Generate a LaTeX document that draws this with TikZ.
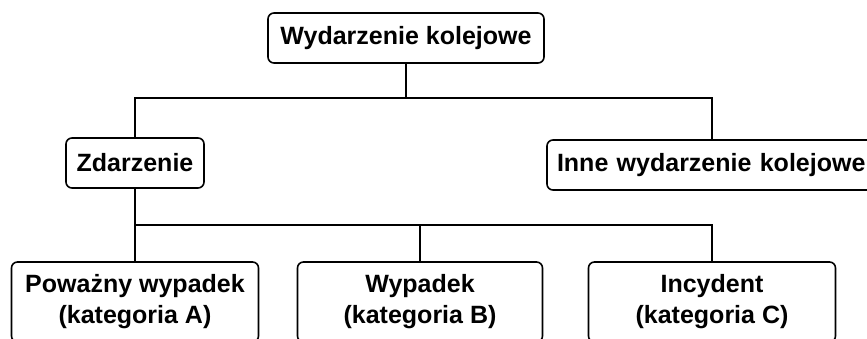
\documentclass[tikz,border=0pt]{standalone}
\usepackage{fontspec}
\setmainfont{Liberation Sans}
\begin{document}
\begin{tikzpicture}[x=1pt,y=-1pt,
  box/.style={draw=black, line width=1.6pt, rounded corners=6pt, inner sep=0pt,
    align=center, font=\fontsize{25}{31}\selectfont\bfseries},
  conn/.style={draw=black, line width=1.6pt}]
\useasboundingbox (0,0) rectangle (867,338);
\clip (0,0) rectangle (867,338);
\fill[white] (0,0) rectangle (867,338);
\node[box, minimum width=276pt, minimum height=50pt] (top) at (406,38) {Wydarzenie kolejowe};
\node[box, minimum width=138pt, minimum height=50pt] (zd) at (135,163) {Zdarzenie};
\node[box, minimum width=330pt, minimum height=50pt, text width=310pt, align=left] (inne) at (712,165) {Inne wydarzenie kolejowe};
\node[box, minimum width=247pt, minimum height=80pt] (ca) at (135,302) {Poważny wypadek\\(kategoria A)};
\node[box, minimum width=245pt, minimum height=80pt] (cb) at (420,302) {Wypadek\\(kategoria B)};
\node[box, minimum width=247pt, minimum height=80pt] (cc) at (712,302) {Incydent\\(kategoria C)};
\coordinate (j1) at (406,98);
\coordinate (j2) at (420,225);
\draw[conn] (top.south) -- (j1);
\draw[conn] (zd.north) |- (j1) -| (inne.north);
\draw[conn] (zd.south) -- (ca.north);
\draw[conn] (zd.south |- j2) -- (j2) -| (cc.north);
\draw[conn] (j2) -- (cb.north);
\end{tikzpicture}
\end{document}
